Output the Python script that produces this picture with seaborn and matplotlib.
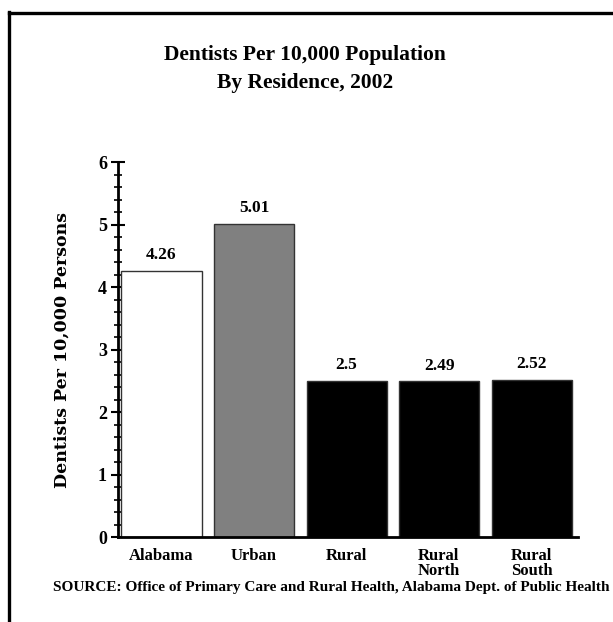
import matplotlib
matplotlib.use("Agg")
import matplotlib.pyplot as plt
from matplotlib.lines import Line2D
from matplotlib.ticker import MultipleLocator
import seaborn as sns
import pandas as pd

# Dentists per 10,000 population by residence, Alabama 2002
categories = ["Alabama", "Urban", "Rural", "Rural\nNorth", "Rural\nSouth"]
values = [4.26, 5.01, 2.5, 2.49, 2.52]
value_labels = ["4.26", "5.01", "2.5", "2.49", "2.52"]
bar_colors = ["#ffffff", "#808080", "#000000", "#000000", "#000000"]

sns.set_theme(style="white")
plt.rcParams["font.family"] = ["Liberation Serif", "DejaVu Serif"]
plt.rcParams["text.color"] = "black"
plt.rcParams["axes.labelcolor"] = "black"
plt.rcParams["xtick.color"] = "black"
plt.rcParams["ytick.color"] = "black"

W, H = 613, 622
fig = plt.figure(figsize=(W / 100, H / 100), dpi=100)
ax = fig.add_axes([118 / W, 1 - 537 / H, 460 / W, 375 / H])

df = pd.DataFrame({"cat": categories, "val": values})
sns.barplot(data=df, x="cat", y="val", hue="cat", palette=bar_colors,
            legend=False, width=0.866, edgecolor="#333333", linewidth=1.0,
            saturation=1, ax=ax)

ax.set_xlim(-0.47, 4.5)
ax.set_ylim(0, 6)
ax.yaxis.set_major_locator(MultipleLocator(1))
ax.yaxis.set_minor_locator(MultipleLocator(0.2))
ax.tick_params(axis="y", which="major", direction="inout", length=10, width=1.5,
               labelsize=13, pad=3, left=True)
ax.tick_params(axis="y", which="minor", direction="inout", length=6, width=1.2, left=True)
ax.tick_params(axis="x", length=0, labelsize=12, pad=8)
for lbl in ax.get_yticklabels():
    lbl.set_fontweight("bold")
for lbl in ax.get_xticklabels():
    lbl.set_fontweight("bold")
    lbl.set_multialignment("left")
    lbl.set_linespacing(0.9)

for s in ("top", "right"):
    ax.spines[s].set_visible(False)
for s in ("left", "bottom"):
    ax.spines[s].set_linewidth(2)
    ax.spines[s].set_color("black")

ax.set_xlabel("")
ax.set_ylabel("Dentists Per 10,000 Persons", fontsize=12.5, fontweight="bold",
              family="DejaVu Serif", labelpad=20)

for i, (v, t) in enumerate(zip(values, value_labels)):
    ax.text(i, v + 0.12, t, ha="center", va="bottom", fontsize=12.5, fontweight="bold")

fig.text(305 / W, 1 - 55 / H, "Dentists Per 10,000 Population", ha="center", va="center",
         fontsize=15.5, fontweight="bold")
fig.text(305 / W, 1 - 83 / H, "By Residence, 2002", ha="center", va="center",
         fontsize=15.5, fontweight="bold")
fig.text(331 / W, 1 - 587 / H,
         "SOURCE: Office of Primary Care and Rural Health, Alabama Dept. of Public Health",
         ha="center", va="center", fontsize=11, fontweight="bold")

# Page frame (left and top edges)
fig.add_artist(Line2D([9 / W, 9 / W], [0, 1 - 12 / H], transform=fig.transFigure,
                      color="black", linewidth=2.4, solid_capstyle="projecting"))
fig.add_artist(Line2D([9 / W, 1], [1 - 13 / H, 1 - 13 / H], transform=fig.transFigure,
                      color="black", linewidth=2.4, solid_capstyle="projecting"))

fig.savefig("out.png", dpi=100)
